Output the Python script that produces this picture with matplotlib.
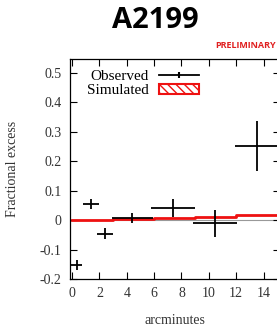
import matplotlib
matplotlib.use("Agg")
import matplotlib.pyplot as plt
import matplotlib.patches as mpatches
from matplotlib.lines import Line2D
import numpy as np

# Observed data
obs_x = [0.35, 1.4, 2.4, 4.4, 7.4, 10.45, 13.5]
obs_y = [-0.153, 0.053, -0.046, 0.008, 0.040, -0.011, 0.251]
obs_xerr = [0.4, 0.6, 0.6, 1.5, 1.6, 1.6, 1.6]
obs_yerr = [0.017, 0.017, 0.02, 0.017, 0.03, 0.045, 0.085]

# Simulated step values
sim_edges = [0, 3, 6, 9, 12, 15.5]
sim_vals = [0.0, 0.005, 0.007, 0.010, 0.017]

xticks = [0, 2, 4, 6, 8, 10, 12, 14]
yticks = [-0.2, -0.1, 0, 0.1, 0.2, 0.3, 0.4, 0.5]
ytick_labels = ["-0.2", "-0.1", "0", "0.1", "0.2", "0.3", "0.4", "0.5"]

plt.rcParams["hatch.color"] = "#ee8888"
fig = plt.figure(figsize=(2.77, 3.26), dpi=100)
W, H = 277, 326
ax = fig.add_axes([70 / W, 1 - 279 / H, (280 - 70) / W, (279 - 58.7) / H])

serif = ["Liberation Serif", "DejaVu Serif"]

ax.axhline(0, color="#999999", lw=0.8, zorder=1)
# simulated step line
xs, ys = [], []
for i, v in enumerate(sim_vals):
    xs += [sim_edges[i], sim_edges[i + 1]]
    ys += [v, v]
ax.plot(xs, ys, color="#ee1111", lw=2, zorder=2)

ax.errorbar(obs_x, obs_y, xerr=obs_xerr, yerr=obs_yerr, fmt="none",
            ecolor="black", elinewidth=1.3, capsize=0, zorder=3)

ax.set_xlim(-0.15, 15.2)
ax.set_ylim(-0.2, 0.547)
ax.set_xticks(xticks)
ax.set_yticks(yticks)
ax.set_yticklabels(ytick_labels)
ax.tick_params(direction="in", top=True, right=True, length=5, width=0.8,
               labelsize=10, pad=6, colors="black")
for lab in ax.get_xticklabels() + ax.get_yticklabels():
    lab.set_family(serif)
    lab.set_color("#333333")
for s in ax.spines.values():
    s.set_linewidth(0.9)

ax.set_xlabel("arcminutes", family=serif, fontsize=10, color="#333333", labelpad=10)
ax.set_ylabel("Fractional excess", family=serif, fontsize=10, color="#333333", labelpad=15)

h_obs = Line2D([0], [0], color="black", lw=1.3, marker="|", markersize=5, markeredgewidth=1.5)
h_sim = mpatches.Patch(facecolor="white", edgecolor="#ee1111", hatch="\\\\\\\\", lw=1.5)
leg = ax.legend([h_obs, h_sim], ["Observed", "Simulated"], loc="upper left",
                frameon=False, prop={"family": serif, "size": 11},
                bbox_to_anchor=(0.03, 1.0), handlelength=2.6, handleheight=0.6,
                labelspacing=0.1, markerfirst=False, handletextpad=0.7,
                borderaxespad=0.3)

fig.text(155 / W, 1 - 21 / H, "A2199", ha="center", va="center",
         fontsize=21, fontweight="bold", family=["Open Sans", "DejaVu Sans"])
fig.text(276 / W, 1 - 45 / H, "PRELIMINARY", ha="right", va="center",
         fontsize=6.5, fontweight="bold", color="#e02020", family=["Open Sans", "DejaVu Sans"])

fig.savefig("out.png", dpi=100)
